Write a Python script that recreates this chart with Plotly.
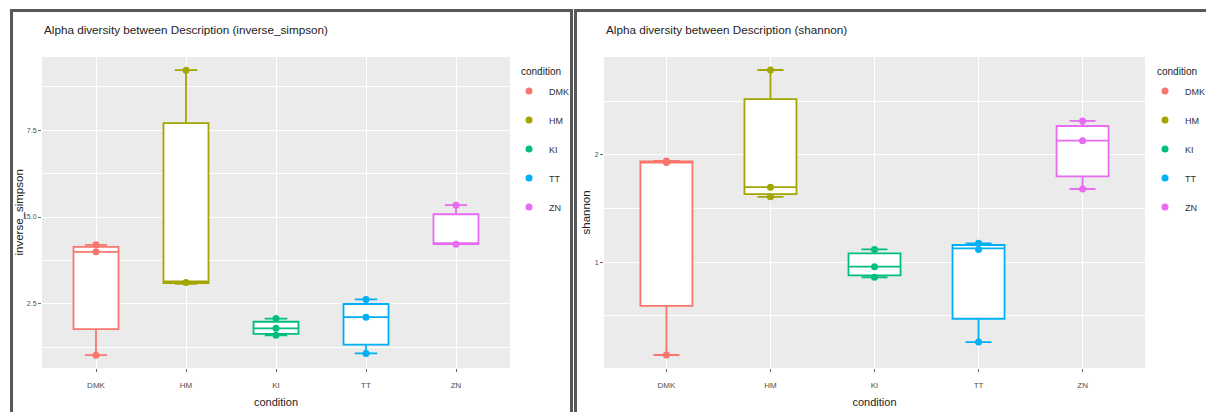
import plotly.graph_objects as go

# The page body adds an 8px margin, so the figure is drawn 8px in and sized to fit.
OFF = 8
W, H = 1214 - OFF, 412 - OFF

categories = ["DMK", "HM", "KI", "TT", "ZN"]
colors = ["#F8766D", "#A3A500", "#00BF7D", "#00B0F6", "#E76BF3"]

# inverse_simpson panel (box stats + observed points)
inv_q1 = [11.78, 13.10, 11.64, 11.33, 14.22]
inv_median = [14.00, 13.15, 11.80, 12.12, 14.24]
inv_q3 = [14.14, 17.70, 11.99, 12.50, 15.08]
inv_low = [11.03, 13.08, 11.60, 11.08, 14.22]
inv_high = [14.20, 19.22, 12.08, 12.63, 15.34]
inv_points = [[14.20, 14.00, 11.03], [19.22, 13.12], [12.08, 11.80, 11.60],
              [12.63, 12.12, 11.08], [15.34, 14.22]]
inv_tickvals = [12.5, 15.0, 17.5]
inv_ticktext = ["2.5", "15.0", "7.5"]

# shannon panel
sh_q1 = [0.593, 1.636, 0.879, 0.474, 1.80]
sh_median = [1.93, 1.70, 0.959, 1.13, 2.133]
sh_q3 = [1.94, 2.52, 1.084, 1.161, 2.27]
sh_low = [0.136, 1.61, 0.86, 0.257, 1.683]
sh_high = [1.945, 2.792, 1.12, 1.177, 2.317]
sh_points = [[1.945, 1.93, 0.136], [2.792, 1.70, 1.61], [1.12, 0.959, 0.86],
             [1.177, 1.12, 0.257], [2.317, 2.133, 1.683]]
sh_tickvals = [1, 2]
sh_ticktext = ["1", "2"]

FONT = "Liberation Sans"

def px(x):
    return (x - OFF) / W

def py(y):
    return 1 - (y - OFF) / H

fig = go.Figure()

panels = [
    dict(xa="x", ya="y", q1=inv_q1, med=inv_median, q3=inv_q3, lo=inv_low, hi=inv_high,
         pts=inv_points, legend="legend"),
    dict(xa="x2", ya="y2", q1=sh_q1, med=sh_median, q3=sh_q3, lo=sh_low, hi=sh_high,
         pts=sh_points, legend="legend2"),
]

for p in panels:
    for i, cat in enumerate(categories):
        fig.add_trace(go.Box(
            x=[cat], q1=[p["q1"][i]], median=[p["med"][i]], q3=[p["q3"][i]],
            lowerfence=[p["lo"][i]], upperfence=[p["hi"][i]],
            xaxis=p["xa"], yaxis=p["ya"], width=0.5, whiskerwidth=0.5,
            fillcolor="white", line=dict(color=colors[i], width=1.8),
            boxpoints=False, showlegend=False, hoverinfo="skip",
        ))
    for i, cat in enumerate(categories):
        fig.add_trace(go.Scatter(
            x=[cat] * len(p["pts"][i]), y=p["pts"][i], mode="markers",
            xaxis=p["xa"], yaxis=p["ya"], name=cat, legend=p["legend"],
            legendgroup=p["legend"] + cat,
            marker=dict(color=colors[i], size=7),
        ))

axis_common = dict(
    showgrid=True, gridcolor="white", gridwidth=1.1, zeroline=False,
    showline=False, ticks="outside", ticklen=3, tickcolor="#666666",
    tickfont=dict(size=8, color="#4D4D4D", family=FONT),
    automargin=False,
)
xaxis_common = dict(axis_common, type="category", categoryorder="array",
                    categoryarray=categories, range=[-0.6, 4.6], ticklabelstandoff=6,
                    title=dict(text="condition", font=dict(size=11, color="#222222"),
                               standoff=9))
yaxis_common = dict(axis_common, tickfont=dict(size=7, color="#4D4D4D", family=FONT))

legend_common = dict(
    xanchor="left", yanchor="top",
    font=dict(size=9, color="#333333"), tracegroupgap=10,
    bgcolor="rgba(0,0,0,0)", itemwidth=30,
)

ytitle_common = dict(xref="paper", yref="paper", xanchor="center", yanchor="middle",
                     showarrow=False, textangle=-90,
                     font=dict(size=11.5, color="#222222", family=FONT))
title_common = dict(xref="paper", yref="paper", xanchor="left", yanchor="middle",
                    showarrow=False, font=dict(size=11.7, color="#222222", family=FONT))
ltitle_common = dict(xref="paper", yref="paper", xanchor="left", yanchor="middle",
                     showarrow=False, font=dict(size=10, color="#222222", family=FONT))

fig.update_layout(
    width=W, height=H, margin=dict(l=0, r=0, t=0, b=0),
    template="none", paper_bgcolor="white", plot_bgcolor="#EBEBEB",
    boxmode="overlay", font=dict(family=FONT, color="#222222"),
    xaxis=dict(domain=[px(42), px(510)], anchor="y", **xaxis_common),
    yaxis=dict(domain=[py(368), py(57)], anchor="x", range=[10.66, 19.60],
               tickvals=inv_tickvals, ticktext=inv_ticktext,
               minor=dict(tickvals=[11.25, 13.75, 16.25, 18.75], showgrid=True,
                          gridcolor="white", gridwidth=0.5, ticks=""),
               **yaxis_common),
    xaxis2=dict(domain=[px(604), px(1145)], anchor="y2", **xaxis_common),
    yaxis2=dict(domain=[py(368), py(57)], anchor="x2", range=[0.015, 2.913],
                tickvals=sh_tickvals, ticktext=sh_ticktext,
                minor=dict(tickvals=[0.5, 1.5, 2.5], showgrid=True,
                           gridcolor="white", gridwidth=0.5, ticks=""),
                **yaxis_common),
    legend=dict(x=px(509), y=py(76.5), **legend_common),
    legend2=dict(x=px(1145), y=py(76.5), **legend_common),
    annotations=[
        dict(text="Alpha diversity between Description (inverse_simpson)",
             x=px(42), y=py(29), **title_common),
        dict(text="Alpha diversity between Description (shannon)",
             x=px(604), y=py(29), **title_common),
        dict(text="inverse_simpson", x=px(18), y=py(212.5), **ytitle_common),
        dict(text="shannon", x=px(585), y=py(212.5), **ytitle_common),
        dict(text="condition", x=px(519), y=py(71), **ltitle_common),
        dict(text="condition", x=px(1155), y=py(71), **ltitle_common),
    ],
    shapes=[
        dict(type="rect", xref="paper", yref="paper", x0=px(11.5), x1=px(571.5),
             y0=py(440), y1=py(10.5), line=dict(color="#585858", width=3), layer="above"),
        dict(type="rect", xref="paper", yref="paper", x0=px(575.5), x1=px(1240),
             y0=py(440), y1=py(10.5), line=dict(color="#585858", width=3), layer="above"),
    ],
)

fig.write_html("out.html")
